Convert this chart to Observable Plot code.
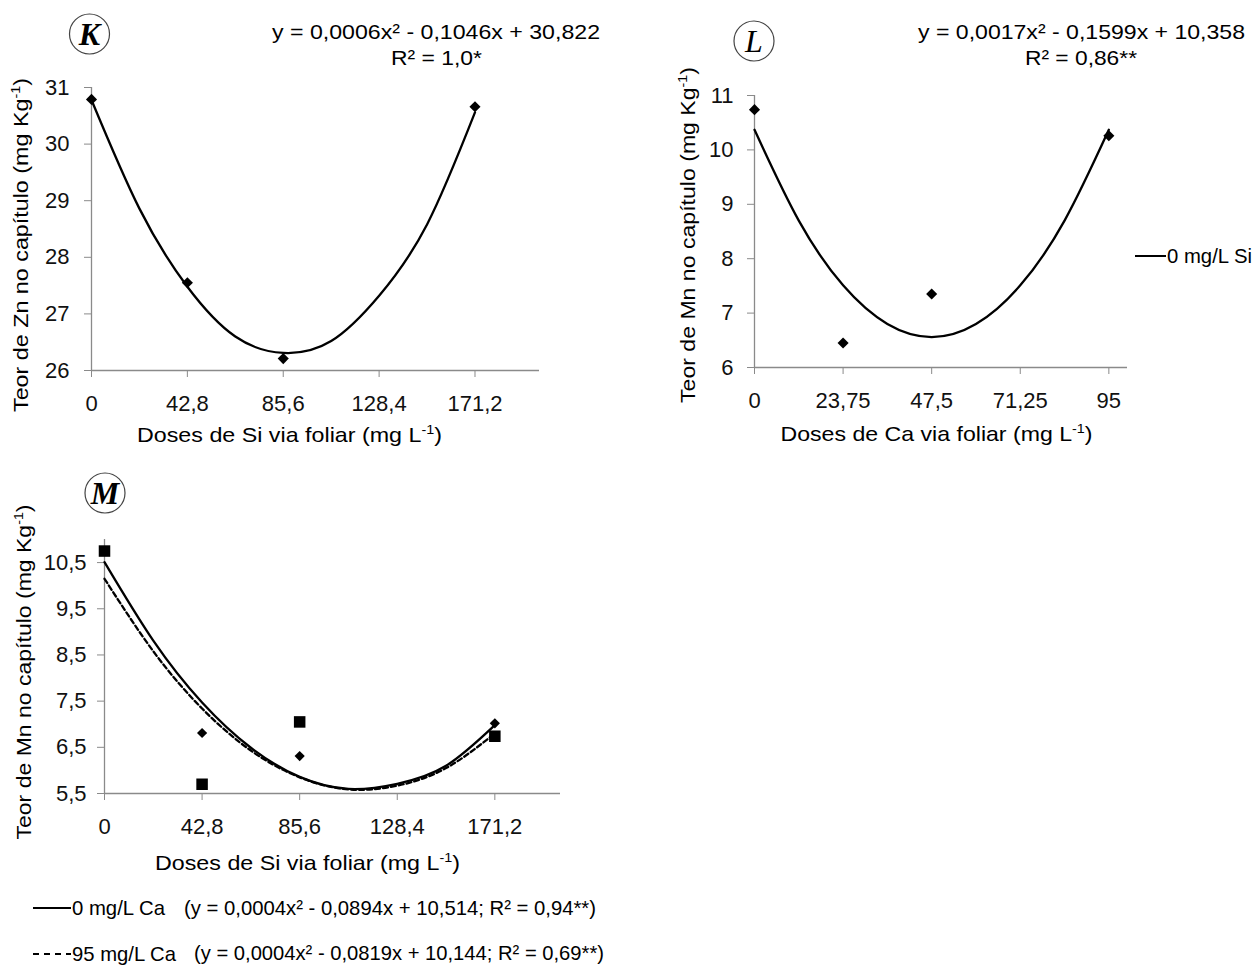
<!DOCTYPE html>
<html>
<head>
<meta charset="utf-8">
<script src="https://cdn.jsdelivr.net/npm/d3@7"></script>
<script src="https://cdn.jsdelivr.net/npm/@observablehq/plot@0.6"></script>
<style>
  html, body { margin: 0; padding: 0; background: #fff; }
  #root { position: relative; width: 1257px; height: 965px; background: #fff; overflow: hidden; }
  #root > svg, #root > figure { position: absolute; margin: 0; }
</style>
</head>
<body>
<div id="root"></div>
<script>
// ---------- data ----------
// Panel K: Zn vs Si doses
const dosesSi = [0, 42.8, 85.6, 171.2];
const znK = [30.79, 27.55, 26.21, 30.66];
const trendSiX = [0, 21.4, 42.8, 64.2, 85.6, 107, 128.4, 149.8, 171.2];
const trendK = [30.78, 28.86, 27.48, 26.60, 26.31, 26.52, 27.32, 28.58, 30.56];

// Panel L: Mn vs Ca doses (0 mg/L Si)
const dosesCa = [0, 23.75, 47.5, 95];
const mnL = [10.74, 6.45, 7.35, 10.26];
const trendCaX = [0, 11.875, 23.75, 35.625, 47.5, 59.375, 71.25, 83.125, 95];
const trendL = [10.37, 8.70, 7.51, 6.80, 6.56, 6.80, 7.51, 8.70, 10.37];

// Panel M: Mn vs Si doses, two Ca levels
const mnM0Ca = [10.75, 6.81, 6.31, 7.02];
const mnM95Ca = [10.75, 5.70, 7.05, 6.74];
const trendM0 = [10.51, 8.81, 7.47, 6.49, 5.86, 5.60, 5.71, 6.10, 6.98];
const trendM95 = [10.15, 8.58, 7.34, 6.43, 5.85, 5.59, 5.67, 6.05, 6.80];

// tick labels
const ticksSi = [0, 42.8, 85.6, 128.4, 171.2];
const ticksCa = [0, 23.75, 47.5, 71.25, 95];
const ticksZn = [26, 27, 28, 29, 30, 31];
const ticksMnL = [6, 7, 8, 9, 10, 11];
const ticksMnM = [5.5, 6.5, 7.5, 8.5, 9.5, 10.5];

// ---------- drawing ----------
const FONT = "Arial, 'Liberation Sans', sans-serif";
const AX = "#8a8a8a";
const fmt = d => String(d).replace(".", ",");
const pts = (xs, ys) => xs.map((x, i) => ({x, y: ys[i]}));

function panel(o) {
  const svg = Plot.plot({
    width: o.width, height: o.height,
    marginLeft: o.ml, marginRight: o.mr, marginTop: o.mt, marginBottom: o.mb,
    x: {domain: o.xDomain},
    y: {domain: o.yDomain},
    style: {fontFamily: FONT, fontSize: "22px", color: "#000", background: "none", overflow: "visible"},
    marks: [
      Plot.ruleY([o.yDomain[0]], {stroke: AX, strokeWidth: 1.3}),
      Plot.ruleX([0], {stroke: AX, strokeWidth: 1.3}),
      Plot.axisX({ticks: o.xTicks, tickFormat: fmt, tickSize: 7, tickPadding: 18, stroke: AX, fill: "#111", label: null, fontSize: 22}),
      Plot.axisY({ticks: o.yTicks, tickFormat: fmt, tickSize: 7, tickPadding: o.yPad, stroke: AX, fill: "#111", label: null, fontSize: 22}),
      ...o.marks
    ]
  });
  svg.style.left = o.left + "px";
  svg.style.top = o.top + "px";
  return svg;
}

const root = document.getElementById("root");

// K
root.appendChild(panel({
  left: 0, top: 0, width: 560, height: 460, ml: 91, mr: 21, mt: 87, mb: 90,
  xDomain: [0, 200], yDomain: [26, 31], xTicks: ticksSi, yTicks: ticksZn, yPad: 15,
  marks: [
    Plot.line(pts(trendSiX, trendK), {x: "x", y: "y", curve: "natural", stroke: "#000", strokeWidth: 2.3}),
    Plot.dot(pts(dosesSi, znK), {x: "x", y: "y", symbol: "diamond2", r: 5, fill: "#000", stroke: "none"})
  ]
}));

// L
root.appendChild(panel({
  left: 620, top: 0, width: 520, height: 460, ml: 134, mr: 13, mt: 95, mb: 93,
  xDomain: [0, 100], yDomain: [6, 11], xTicks: ticksCa, yTicks: ticksMnL, yPad: 14,
  marks: [
    Plot.line(pts(trendCaX, trendL), {x: "x", y: "y", curve: "natural", stroke: "#000", strokeWidth: 2.3}),
    Plot.dot(pts(dosesCa, mnL), {x: "x", y: "y", symbol: "diamond2", r: 5, fill: "#000", stroke: "none"})
  ]
}));

// M
root.appendChild(panel({
  left: 0, top: 460, width: 580, height: 400, ml: 104, mr: 20, mt: 79, mb: 67,
  xDomain: [0, 200], yDomain: [5.5, 11], xTicks: ticksSi, yTicks: ticksMnM, yPad: 11,
  marks: [
    Plot.line(pts(trendSiX, trendM0), {x: "x", y: "y", curve: "natural", stroke: "#000", strokeWidth: 2.3}),
    Plot.line(pts(trendSiX, trendM95), {x: "x", y: "y", curve: "natural", stroke: "#000", strokeWidth: 2.3, strokeDasharray: "5,3"}),
    Plot.dot(pts(dosesSi, mnM0Ca), {x: "x", y: "y", symbol: "diamond2", r: 4.6, fill: "#000", stroke: "none"}),
    Plot.dot(pts(dosesSi, mnM95Ca), {x: "x", y: "y", symbol: "square", r: 6.5, fill: "#000", stroke: "none"})
  ]
}));

// ---------- text overlay ----------
const sup = '<tspan dy="-8" font-size="13">-1</tspan><tspan dy="8">)</tspan>';
const yTitle = (x, y, len, txt) =>
  `<text transform="translate(${x},${y}) rotate(-90)" text-anchor="middle" textLength="${len}" lengthAdjust="spacingAndGlyphs">${txt} (mg Kg${sup}</text>`;
const xTitle = (x, y, len, txt) =>
  `<text x="${x}" y="${y}" text-anchor="middle" textLength="${len}" lengthAdjust="spacingAndGlyphs">${txt} (mg L${sup}</text>`;
const tl = (x, y, len, txt, anchor = "start") =>
  `<text x="${x}" y="${y}" text-anchor="${anchor}" textLength="${len}" lengthAdjust="spacingAndGlyphs">${txt}</text>`;
const badge = (cx, cy, letter, weight) =>
  `<circle cx="${cx}" cy="${cy}" r="20" fill="none" stroke="#444" stroke-width="1.2"/>` +
  `<text x="${cx}" y="${cy + 11}" text-anchor="middle" font-family="'Times New Roman','Liberation Serif',serif" font-style="italic" font-weight="${weight}" font-size="32">${letter}</text>`;

const overlay = `
<svg width="1257" height="965" style="left:0;top:0;pointer-events:none" font-family="${FONT}" font-size="21" fill="#000">
  ${badge(89.5, 34, "K", "bold")}
  ${badge(754, 41, "L", "normal")}
  ${badge(105, 493, "M", "bold")}

  ${tl(436, 39, 328, "y = 0,0006x² - 0,1046x + 30,822", "middle")}
  ${tl(436.5, 65, 91, "R² = 1,0*", "middle")}
  ${tl(1081.5, 39, 327, "y = 0,0017x² - 0,1599x + 10,358", "middle")}
  ${tl(1081, 65, 112, "R² = 0,86**", "middle")}

  ${yTitle(28, 245, 334, "Teor de Zn no capítulo")}
  ${yTitle(695, 235, 336, "Teor de Mn no capítulo")}
  ${yTitle(31, 672, 335, "Teor de Mn no capítulo")}

  ${xTitle(289.5, 442, 305, "Doses de Si via foliar")}
  ${xTitle(936.5, 441, 312, "Doses de Ca via foliar")}
  ${xTitle(307.5, 870, 305, "Doses de Si via foliar")}

  <line x1="1135" y1="256" x2="1166" y2="256" stroke="#000" stroke-width="2"/>
  ${tl(1167, 263, 85, "0 mg/L Si")}

  <line x1="33" y1="908" x2="71" y2="908" stroke="#000" stroke-width="2"/>
  ${tl(72, 915, 93, "0 mg/L Ca")}
  ${tl(184, 915, 412, "(y = 0,0004x² - 0,0894x + 10,514; R² = 0,94**)")}

  <line x1="33" y1="954" x2="71" y2="954" stroke="#000" stroke-width="2" stroke-dasharray="6,5"/>
  ${tl(72, 961, 104, "95 mg/L Ca")}
  ${tl(194, 960, 410, "(y = 0,0004x² - 0,0819x + 10,144; R² = 0,69**)")}
</svg>`;
root.insertAdjacentHTML("beforeend", overlay);
</script>
</body>
</html>
